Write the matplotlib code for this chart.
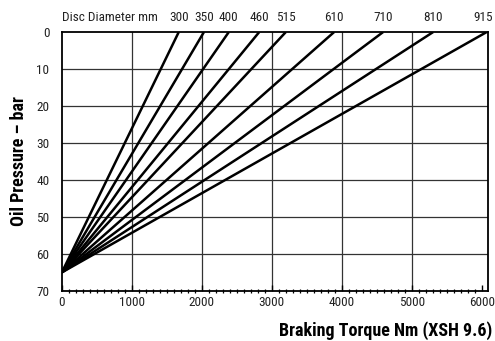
import numpy as np
import matplotlib
matplotlib.use("Agg")
import matplotlib.pyplot as plt
from matplotlib.ticker import MultipleLocator

font_family = ['Roboto Condensed', 'DejaVu Sans']
plt.rcParams['font.family'] = font_family

# disc diameters (mm) and the torque at 0 bar where each line meets the top
diameters = [300, 350, 400, 460, 515, 610, 710, 810, 915]
torque_at_top = [1670, 2030, 2385, 2820, 3200, 3890, 4590, 5305, 6070]
start_pressure = 65  # bar, common point at 0 Nm

x_ticks = [0, 1000, 2000, 3000, 4000, 5000, 6000]
y_ticks = [0, 10, 20, 30, 40, 50, 60, 70]

fig = plt.figure(figsize=(4.95, 3.41), dpi=100)
ax = fig.add_axes([0.125, 0.147, 0.861, 0.759])

# grid
for xv in x_ticks[1:-1]:
    ax.axvline(xv, color='#333333', linewidth=0.9, zorder=1)
for yv in y_ticks[1:-1]:
    ax.axhline(yv, color='#333333', linewidth=0.9, zorder=1)

for i, (d, t) in enumerate(zip(diameters, torque_at_top)):
    ax.plot([0, t], [start_pressure, 0], color='black', linewidth=1.8,
            solid_capstyle='butt', zorder=3)
    # last label would run off the edge, pull it in a bit
    shift = -50 if i == len(diameters) - 1 else 0
    ax.text(t + shift, -2.2, str(d), ha='center', va='bottom', fontsize=9.5,
            color='#222222')

ax.text(0, -2.2, 'Disc Diameter mm', ha='left', va='bottom', fontsize=9.5,
        color='#222222')

ax.set_xlim(0, 6090)
ax.set_ylim(70, 0)
ax.set_xticks(x_ticks)
ax.set_yticks(y_ticks)
ax.xaxis.set_minor_locator(MultipleLocator(100))
ax.tick_params(axis='x', which='major', direction='in', length=4, width=1,
               labelsize=9.5, pad=4, labelcolor='#222222')
ax.tick_params(axis='x', which='minor', direction='inout', length=3, width=0.9)
ax.tick_params(axis='y', which='major', length=0, labelsize=9.5, pad=9,
               labelcolor='#222222')

for s in ax.spines.values():
    s.set_linewidth(1.3)
    s.set_color('black')

ax.set_ylabel('Oil Pressure \u2013 bar', fontsize=13, fontweight='bold',
              labelpad=6)
fig.text(0.995, 0.03, 'Braking Torque Nm (XSH 9.6)', ha='right', va='center',
         fontsize=13, fontweight='bold')

plt.savefig('out.png', dpi=100)
